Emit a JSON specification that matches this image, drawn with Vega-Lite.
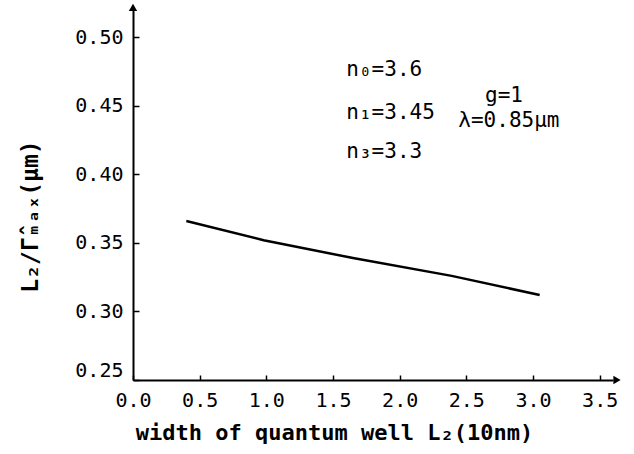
{
  "$schema": "https://vega.github.io/schema/vega-lite/v6.json",
  "width": 480,
  "height": 370,
  "autosize": {"type": "none"},
  "padding": {"left": 133, "top": 10, "right": 21, "bottom": 74},
  "background": "white",
  "config": {
    "view": {"stroke": null},
    "font": "DejaVu Sans Mono",
    "axis": {"domainColor": "black", "domainWidth": 2, "tickColor": "black", "labelColor": "black", "titleColor": "black", "grid": false, "labelFont": "DejaVu Sans Mono", "titleFont": "DejaVu Sans Mono"}
  },
  "datasets": {
    "curve": [
      {"L2": 0.40, "ratio": 0.366},
      {"L2": 0.98, "ratio": 0.352},
      {"L2": 1.65, "ratio": 0.339},
      {"L2": 2.39, "ratio": 0.326},
      {"L2": 3.05, "ratio": 0.312}
    ],
    "notes": [
      {"x": 1.60, "y": 0.4762, "label": "n₀=3.6"},
      {"x": 1.60, "y": 0.4448, "label": "n₁=3.45"},
      {"x": 1.60, "y": 0.4164, "label": "n₃=3.3"},
      {"x": 2.64, "y": 0.4575, "label": "g=1"},
      {"x": 2.44, "y": 0.4390, "label": "λ=0.85μm"}
    ],
    "arrows": [
      {"x": 3.63, "y": 0.25, "shape": "triangle-right"},
      {"x": 0, "y": 0.522, "shape": "triangle-up"}
    ]
  },
  "layer": [
    {
      "data": {"name": "curve"},
      "mark": {"type": "line", "color": "black", "strokeWidth": 2.5},
      "encoding": {
        "x": {
          "field": "L2", "type": "quantitative",
          "scale": {"domain": [0, 3.6], "nice": false, "zero": false},
          "axis": {"values": [0, 0.5, 1.0, 1.5, 2.0, 2.5, 3.0, 3.5], "format": ".1f", "labelFlush": false, "tickSize": -5, "tickWidth": 1.5, "labelFontSize": 20, "labelPadding": 15, "title": "width of quantum well L₂(10nm)", "titleFontSize": 22, "titleFontWeight": "bold", "titleX": 201, "titleY": 52, "titleAlign": "center", "titleBaseline": "middle"}
        },
        "y": {
          "field": "ratio", "type": "quantitative",
          "scale": {"domain": [0.25, 0.52], "nice": false, "zero": false},
          "axis": {"values": [0.25, 0.30, 0.35, 0.40, 0.45, 0.50], "format": ".2f", "labelFlush": true, "tickSize": -6, "tickWidth": 1.5, "labelFontSize": 20, "labelPadding": 16, "title": "L₂/Γ̂ₘₐₓ(μm)", "titleFontSize": 23, "titleFontWeight": "bold", "titleX": -103, "titleY": 206, "titleAlign": "center", "titleBaseline": "middle", "titleAngle": -90}
        }
      }
    },
    {
      "data": {"name": "notes"},
      "mark": {"type": "text", "align": "left", "baseline": "middle", "fontSize": 21, "color": "black", "font": "DejaVu Sans Mono"},
      "encoding": {
        "x": {"field": "x", "type": "quantitative"},
        "y": {"field": "y", "type": "quantitative"},
        "text": {"field": "label"}
      }
    },
    {
      "data": {"name": "arrows"},
      "mark": {"type": "point", "filled": true, "color": "black", "size": 70, "opacity": 1, "clip": false},
      "encoding": {
        "x": {"field": "x", "type": "quantitative"},
        "y": {"field": "y", "type": "quantitative"},
        "shape": {"field": "shape", "type": "nominal", "scale": null, "legend": null}
      }
    }
  ]
}
